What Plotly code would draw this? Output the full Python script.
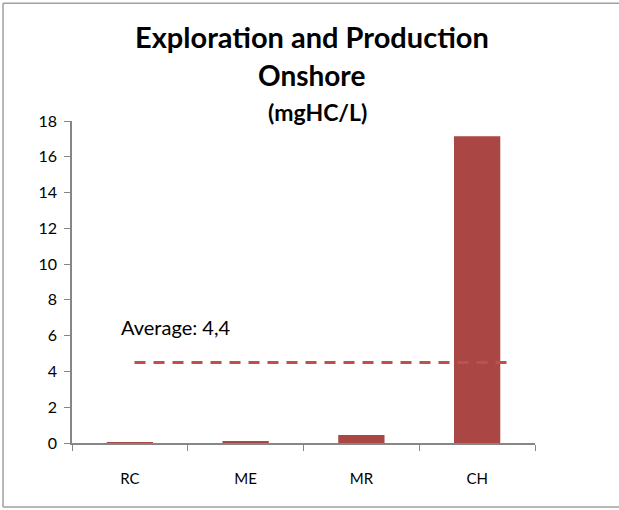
import plotly.graph_objects as go

# data
categories = ["RC", "ME", "MR", "CH"]
values = [0.03, 0.1, 0.45, 17.15]
average = 4.5
average_label = "Average: 4,4"
y_ticks = list(range(0, 19, 2))
title_lines = ["Exploration and Production", "Onshore", "(mgHC/L)"]

bar_color = "#AA4643"
line_color = "#C0504D"
axis_color = "#868686"
font_family = "Lato, 'Open Sans', sans-serif"

fig = go.Figure()

fig.add_trace(go.Bar(
    x=categories,
    y=values,
    marker=dict(color=bar_color, line=dict(width=0)),
    showlegend=False,
    hoverinfo="skip",
))

# average dashed line
fig.add_shape(
    type="line", xref="x", yref="y",
    x0=0.04, x1=3.27, y0=average, y1=average,
    line=dict(color=line_color, width=3, dash="11px,8px"),
)

fig.add_annotation(
    x=-0.09, y=6.5, xref="x", yref="y",
    text=average_label, showarrow=False,
    xanchor="left", yanchor="middle",
    font=dict(family=font_family, size=20, color="#000000"),
)

# title, one annotation per line to match the line spacing
title_y = [1.262, 1.144, 1.029]
title_x = [0.518, 0.518, 0.53]
title_size = [29, 28, 23]
for txt, tx, ty, sz in zip(title_lines, title_x, title_y, title_size):
    fig.add_annotation(
        x=tx, y=ty, xref="paper", yref="paper",
        text="<b>" + txt + "</b>",
        showarrow=False, xanchor="center", yanchor="middle",
        font=dict(family=font_family, size=sz, color="#000000"),
    )

# chart border: top, left and bottom only (right edge is cut off in the reference)
bx0, bx1, by0, by1 = -0.149, 1.3, -0.199, 1.366
for x0, y0, x1, y1 in [(bx0, by1, bx1, by1), (bx0, by0, bx0, by1), (bx0, by0, bx1, by0)]:
    fig.add_shape(
        type="line", xref="paper", yref="paper",
        x0=x0, y0=y0, x1=x1, y1=y1,
        line=dict(color="#A0A0A0", width=1.5),
        layer="below",
    )

fig.update_xaxes(
    showline=True, linecolor=axis_color, linewidth=1.5,
    ticks="outside", tickson="boundaries", ticklen=6, tickcolor=axis_color,
    ticklabelstandoff=21,
    tickfont=dict(family=font_family, size=15, color="#000000"),
    showgrid=False, zeroline=False,
)
fig.update_yaxes(
    range=[0, 18], tickvals=y_ticks,
    showline=True, linecolor=axis_color, linewidth=1.5,
    ticks="outside", ticklen=6, tickcolor=axis_color,
    ticklabelstandoff=4,
    tickfont=dict(family=font_family, size=16, color="#000000"),
    showgrid=False, zeroline=False,
)

fig.update_layout(
    width=619, height=510,
    margin=dict(l=72, r=84, t=121, b=67),
    bargap=0.6,
    plot_bgcolor="white", paper_bgcolor="white",
)

# drop the default page margin so the figure sits at the window corner
fig.write_html("out.html", config={"displayModeBar": False},
               post_script="document.body.style.margin='0';")
